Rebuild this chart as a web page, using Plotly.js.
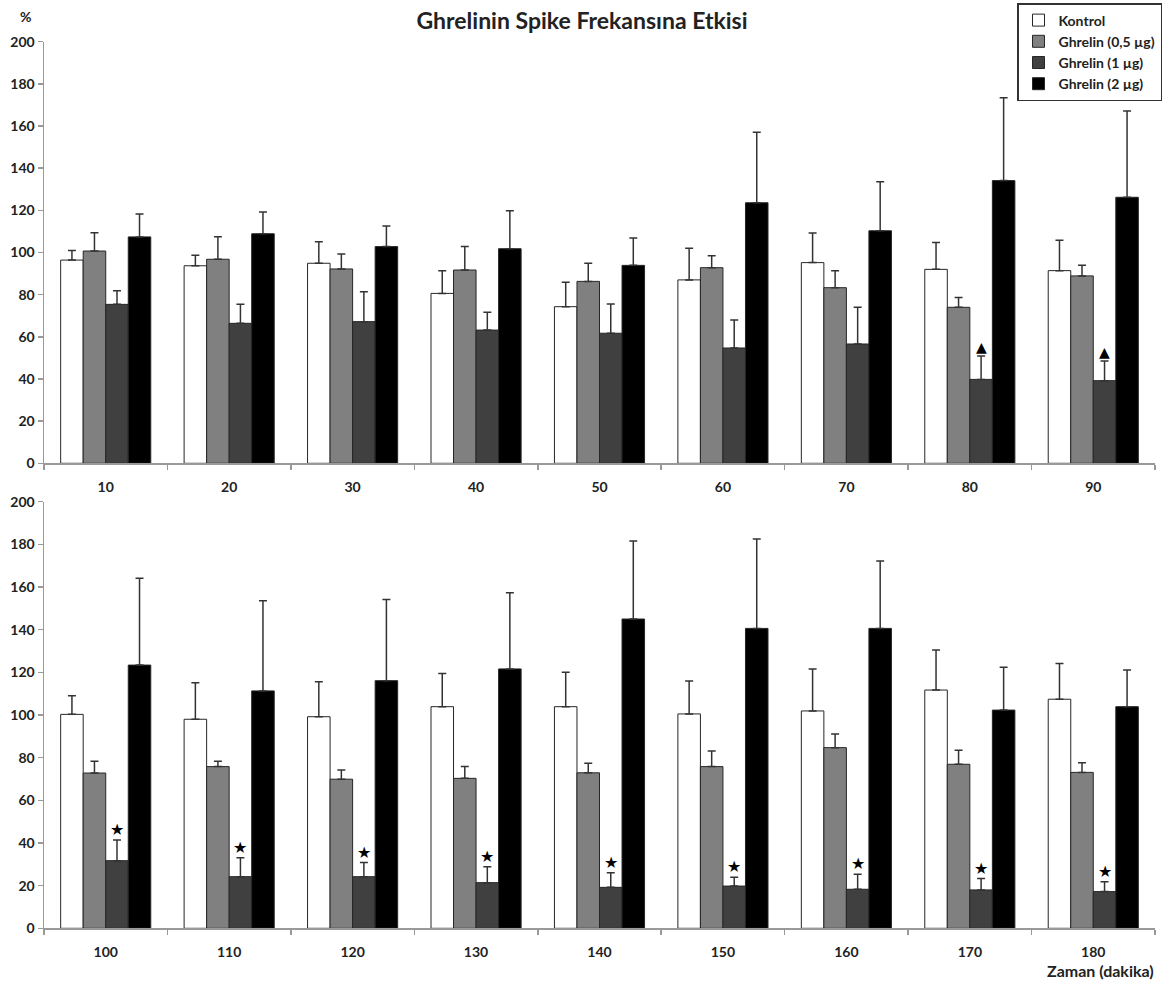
<!DOCTYPE html>
<html>
<head>
<meta charset="utf-8">
<script src="https://cdn.plot.ly/plotly-3.0.1.min.js"></script>
<style>html,body{margin:0;padding:0;background:#fff;}#chart{width:1171px;height:983px;}</style>
</head>
<body>
<div id="chart"></div>
<script>
// ---------- data ----------
const seriesNames = ['Kontrol', 'Ghrelin (0,5 µg)', 'Ghrelin (1 µg)', 'Ghrelin (2 µg)'];

const cats1 = ['10','20','30','40','50','60','70','80','90'];
const kontrol1 = [96.4, 93.7, 94.9, 80.6, 74.3, 87.0, 95.2, 92.0, 91.4];
const kontrolErr1 = [4.5, 5.0, 10.2, 10.8, 11.6, 15.0, 14.0, 12.8, 14.4];
const g05_1 = [100.7, 96.8, 92.2, 91.7, 86.3, 92.8, 83.3, 74.0, 88.9];
const g05Err1 = [8.7, 10.7, 7.1, 11.1, 8.6, 5.7, 8.1, 4.6, 5.0];
const g1_1 = [75.4, 66.4, 67.2, 63.2, 61.7, 54.7, 56.6, 39.8, 39.2];
const g1Err1 = [6.5, 9.0, 14.2, 8.4, 13.9, 13.3, 17.4, 11.1, 9.3];
const g2_1 = [107.4, 108.9, 102.8, 101.8, 93.9, 123.6, 110.3, 134.1, 126.2];
const g2Err1 = [10.9, 10.3, 9.8, 18.0, 13.0, 33.4, 23.3, 39.3, 40.9];
const sig1 = ['', '', '', '', '', '', '', '▲', '▲'];

const cats2 = ['100','110','120','130','140','150','160','170','180'];
const kontrol2 = [100.3, 98.0, 99.2, 103.9, 103.9, 100.5, 101.9, 111.7, 107.4];
const kontrolErr2 = [8.7, 17.1, 16.4, 15.6, 16.1, 15.4, 19.7, 18.8, 16.8];
const g05_2 = [72.8, 75.8, 69.9, 70.3, 72.9, 75.8, 84.7, 76.9, 73.1];
const g05Err2 = [5.5, 2.5, 4.3, 5.5, 4.5, 7.3, 6.4, 6.6, 4.5];
const g1_2 = [31.7, 24.2, 24.2, 21.4, 19.2, 19.8, 18.3, 18.0, 17.2];
const g1Err2 = [9.7, 8.9, 6.6, 7.5, 6.9, 4.1, 7.0, 5.3, 4.6];
const g2_2 = [123.4, 111.3, 116.1, 121.6, 145.0, 140.6, 140.6, 102.3, 103.9];
const g2Err2 = [40.7, 42.3, 38.1, 35.7, 36.6, 41.9, 31.6, 20.1, 17.2];
const sig2 = ['★','★','★','★','★','★','★','★','★'];

// ---------- styling ----------
const FONT = 'Lato, "Open Sans", "DejaVu Sans", sans-serif';
const fills = ['#ffffff', '#808080', '#404040', '#000000'];
const errColor = '#333333';

function mkBar(name, i, cats, vals, errs, xa, ya, showLegend) {
  return {
    type: 'bar', name: name, x: cats, y: vals,
    xaxis: xa, yaxis: ya,
    legendgroup: 'g' + i, showlegend: showLegend,
    marker: {color: fills[i], line: {color: '#262626', width: 1}},
    error_y: {type: 'data', symmetric: false, array: errs,
              arrayminus: errs.map(() => 0),
              color: errColor, thickness: 1.5, width: 4},
    hoverinfo: 'x+y+name'
  };
}

const traces = [
  mkBar(seriesNames[0], 0, cats1, kontrol1, kontrolErr1, 'x', 'y', true),
  mkBar(seriesNames[1], 1, cats1, g05_1, g05Err1, 'x', 'y', true),
  mkBar(seriesNames[2], 2, cats1, g1_1, g1Err1, 'x', 'y', true),
  mkBar(seriesNames[3], 3, cats1, g2_1, g2Err1, 'x', 'y', true),
  mkBar(seriesNames[0], 0, cats2, kontrol2, kontrolErr2, 'x2', 'y2', false),
  mkBar(seriesNames[1], 1, cats2, g05_2, g05Err2, 'x2', 'y2', false),
  mkBar(seriesNames[2], 2, cats2, g1_2, g1Err2, 'x2', 'y2', false),
  mkBar(seriesNames[3], 3, cats2, g2_2, g2Err2, 'x2', 'y2', false)
];

// geometry (page pixels)
const W = 1171, H = 983;
const mL = 44, mR = 16;
const top1 = 41.7, bot1 = 463.3, top2 = 501.7, bot2 = 928.3;
const bargap = 0.27;
// dark bar (3rd of 4) offset from category centre in pixels
const catPx = (W - mL - mR) / cats1.length;
const darkShift = catPx * (1 - bargap) / 8;

const annotations = [];
function addSig(cats, vals, errs, sig, xref, yref, size) {
  cats.forEach((c, k) => {
    if (!sig[k]) return;
    annotations.push({
      x: k, y: vals[k] + errs[k], xref: xref, yref: yref,
      text: sig[k], showarrow: false, xshift: darkShift,
      yanchor: 'bottom', yshift: -1,
      font: {family: '"DejaVu Sans", sans-serif', size: size, color: '#000'}
    });
  });
}
addSig(cats1, g1_1, g1Err1, sig1, 'x', 'y', 14);
addSig(cats2, g1_2, g1Err2, sig2, 'x2', 'y2', 16);

annotations.push({
  text: '<b>%</b>', xref: 'paper', yref: 'paper',
  x: (25 - mL) / (W - mL - mR), y: 1 - 17 / H,
  xanchor: 'center', yanchor: 'middle', showarrow: false,
  font: {family: FONT, size: 14, color: '#222'}
});
annotations.push({
  text: '<b>Zaman (dakika)</b>', xref: 'paper', yref: 'paper',
  x: (1100 - mL) / (W - mL - mR), y: 1 - 970 / H,
  xanchor: 'center', yanchor: 'middle', showarrow: false,
  font: {family: FONT, size: 16, color: '#222'}
});

const yAxisBase = {
  range: [0, 200], autorange: false, dtick: 20, tick0: 0, fixedrange: true,
  showgrid: false, zeroline: false,
  showline: true, linecolor: '#999', linewidth: 1.5,
  ticks: 'outside', ticklen: 5, tickcolor: '#999', tickwidth: 1.5,
  tickfont: {family: FONT, size: 14, color: '#222', weight: 'bold'}
};
const xAxisBase = {
  type: 'category', fixedrange: true, autorange: false,
  range: [-0.5, cats1.length - 0.5],
  showgrid: false, zeroline: false, tickangle: 0,
  showline: true, linecolor: '#999', linewidth: 1.5,
  ticks: 'outside', tickson: 'boundaries', ticklen: 5, tickcolor: '#999', tickwidth: 1.5,
  ticklabelstandoff: 10,
  tickfont: {family: FONT, size: 14, color: '#222', weight: 'bold'}
};

const layout = {
  width: W, height: H,
  margin: {l: mL, r: mR, t: 0, b: 0, pad: 0},
  paper_bgcolor: '#fff', plot_bgcolor: '#fff',
  font: {family: FONT, color: '#222'},
  barmode: 'group', bargap: bargap, bargroupgap: 0,
  title: {
    text: '<b>Ghrelinin Spike Frekansına Etkisi</b>',
    xref: 'container', yref: 'container',
    x: 582 / W, y: 1 - 21 / H, xanchor: 'center', yanchor: 'middle',
    font: {family: FONT, size: 23, color: '#222'}
  },
  xaxis: Object.assign({}, xAxisBase, {anchor: 'y', domain: [0, 1]}),
  yaxis: Object.assign({}, yAxisBase, {anchor: 'x', domain: [1 - bot1 / H, 1 - top1 / H]}),
  xaxis2: Object.assign({}, xAxisBase, {anchor: 'y2', domain: [0, 1]}),
  yaxis2: Object.assign({}, yAxisBase, {anchor: 'x2', domain: [1 - bot2 / H, 1 - top2 / H]}),
  legend: {
    x: (1162 - mL) / (W - mL - mR), y: 1 - 3 / H, xanchor: 'right', yanchor: 'top',
    xref: 'paper', yref: 'paper',
    bgcolor: '#fff', bordercolor: '#333', borderwidth: 1.5,
    font: {family: FONT, size: 14, color: '#222', weight: 'bold'},
    itemwidth: 30, tracegroupgap: 0, traceorder: 'normal'
  },
  annotations: annotations,
  showlegend: true
};

Plotly.newPlot('chart', traces, layout, {displayModeBar: false, staticPlot: true});
</script>
</body>
</html>
